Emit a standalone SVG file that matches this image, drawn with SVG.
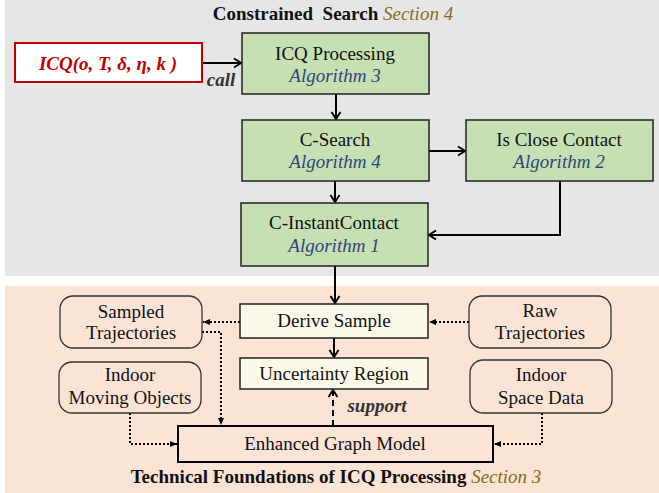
<svg xmlns="http://www.w3.org/2000/svg" width="659" height="493" viewBox="0 0 659 493">
<defs>
<marker id="open" markerWidth="12" markerHeight="12" viewBox="0 0 12 12" refX="10" refY="6" orient="auto" markerUnits="userSpaceOnUse">
<path d="M3,1.5 L10,6 L3,10.5" fill="none" stroke="#000" stroke-width="2"/>
</marker>
<marker id="tri" markerWidth="8" markerHeight="8" viewBox="0 0 8 8" refX="7" refY="4" orient="auto" markerUnits="userSpaceOnUse">
<path d="M0,1 L7,4 L0,7 Z" fill="#000"/>
</marker>
<style>
text{font-family:"Liberation Serif","Times New Roman",serif;font-size:19px;fill:#111;text-anchor:middle}
.alg{font-style:italic;fill:#2F4677}
.sec{font-style:italic;fill:#8A6A1C;font-weight:normal}
.title{font-weight:bold}
.green{fill:#C6E0B4;stroke:#222;stroke-width:1.5}
.cream{fill:#FDF9E8;stroke:#222;stroke-width:1.5}
.round{fill:none;stroke:#333;stroke-width:1.3}
.solid{fill:none;stroke:#000;stroke-width:2;marker-end:url(#open)}
.dot{fill:none;stroke:#000;stroke-width:2;stroke-dasharray:2 2;marker-end:url(#tri)}
.dash{fill:none;stroke:#000;stroke-width:2;stroke-dasharray:6 4;marker-end:url(#open)}
</style>
</defs>
<rect x="5" y="0" width="654" height="276" fill="#E6E6E6"/>
<rect x="5" y="286" width="654" height="207" fill="#FBE4D6"/>
<text x="333" y="20" class="title" xml:space="preserve"><tspan>Constrained  Search</tspan> <tspan class="sec">Section 4</tspan></text>
<text x="336" y="483" class="title"><tspan>Technical Foundations of ICQ Processing</tspan> <tspan class="sec">Section 3</tspan></text>
<g id="connectors">
<path class="solid" d="M202,63 L241,63"/>
<path class="solid" d="M336,94 L336,119"/>
<path class="solid" d="M429,151 L465,151"/>
<path class="solid" d="M335,181 L335,202"/>
<path class="solid" d="M560,181 L560,235 L429,235"/>
<path class="solid" d="M335,266 L335,303"/>
<path class="solid" d="M334,338 L334,357"/>
<path class="dash" d="M333,426 L333,390"/>
<path class="dot" d="M240,322 L203,322"/>
<path class="dot" d="M469,322 L429,322"/>
<path class="dot" d="M202,332 L221,332 L221,425"/>
<path class="dot" d="M130,413 L130,444 L177,444"/>
<path class="dot" d="M542,413 L542,444 L494,444"/>
<text x="221" y="86" style="font-weight:bold;font-style:italic;fill:#333">call</text>
<text x="377" y="412" style="font-weight:bold;font-style:italic;fill:#333">support</text>
</g>
<g id="icq">
<rect x="15" y="43" width="187" height="39" fill="#fff" stroke="#C00000" stroke-width="2"/>
<text x="108" y="70" style="font-weight:bold;font-style:italic;fill:#C00000">ICQ(o, T, δ, η, k )</text>
</g>
<g id="icq-processing">
<rect class="green" x="242" y="33" width="187" height="61"/>
<text x="335" y="60">ICQ Processing</text>
<text x="335" y="82" class="alg">Algorithm 3</text>
</g>
<g id="c-search">
<rect class="green" x="242" y="120" width="187" height="61"/>
<text x="335" y="146">C-Search</text>
<text x="335" y="168" class="alg">Algorithm 4</text>
</g>
<g id="is-close-contact">
<rect class="green" x="466" y="120" width="187" height="61"/>
<text x="559" y="146">Is Close Contact</text>
<text x="559" y="168" class="alg">Algorithm 2</text>
</g>
<g id="c-instantcontact">
<rect class="green" x="241" y="203" width="187" height="63"/>
<text x="334" y="229">C-InstantContact</text>
<text x="334" y="252" class="alg">Algorithm 1</text>
</g>
<g id="derive-sample">
<rect class="cream" x="240" y="304" width="188" height="34"/>
<text x="334" y="327">Derive Sample</text>
</g>
<g id="uncertainty-region">
<rect class="cream" x="240" y="358" width="188" height="31"/>
<text x="334" y="380">Uncertainty Region</text>
</g>
<g id="enhanced-graph-model">
<rect x="178" y="426" width="315" height="36" fill="none" stroke="#000" stroke-width="2"/>
<text x="335" y="450">Enhanced Graph Model</text>
</g>
<g id="sampled-trajectories">
<rect class="round" x="60" y="296" width="142" height="52" rx="13"/>
<text x="131" y="318">Sampled</text>
<text x="131" y="339">Trajectories</text>
</g>
<g id="indoor-moving-objects">
<rect class="round" x="59" y="362" width="142" height="51" rx="13"/>
<text x="130" y="381">Indoor</text>
<text x="130" y="404">Moving Objects</text>
</g>
<g id="raw-trajectories">
<rect class="round" x="469" y="296" width="142" height="52" rx="13"/>
<text x="540" y="317">Raw</text>
<text x="540" y="339">Trajectories</text>
</g>
<g id="indoor-space-data">
<rect class="round" x="470" y="360" width="142" height="53" rx="13"/>
<text x="541" y="381">Indoor</text>
<text x="541" y="404">Space Data</text>
</g>
</svg>
